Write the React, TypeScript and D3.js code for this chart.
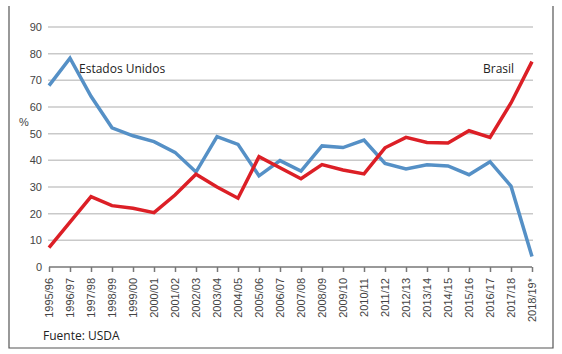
import { useEffect, useRef } from "react";
import * as d3 from "d3";

const seasons = [
  "1995/96", "1996/97", "1997/98", "1998/99", "1999/00", "2000/01",
  "2001/02", "2002/03", "2003/04", "2004/05", "2005/06", "2006/07",
  "2007/08", "2008/09", "2009/10", "2010/11", "2011/12", "2012/13",
  "2013/14", "2014/15", "2015/16", "2016/17", "2017/18", "2018/19*",
];
const estadosUnidos = [
  68, 78.3, 64, 52.2, 49.2, 47, 43, 35.6, 48.9, 46, 34.2, 39.9,
  36, 45.4, 44.8, 47.6, 38.8, 36.8, 38.3, 37.9, 34.6, 39.5, 30.3, 3.9,
];
const brasil = [
  7.3, 16.8, 26.4, 23, 22, 20.4, 27, 34.8, 30, 25.8, 41.4, 37.2,
  33.1, 38.4, 36.4, 34.9, 44.7, 48.6, 46.7, 46.5, 51.1, 48.6, 61.5, 77,
];
const yTicks = [0, 10, 20, 30, 40, 50, 60, 70, 80, 90];

const W = 562;
const H = 354;

const App = () => {
  const svgRef = useRef<SVGSVGElement>(null);

  useEffect(() => {
    const svg = d3.select(svgRef.current);
    svg.selectAll("*").remove();

    const x = d3.scalePoint().domain(seasons).range([49, 532]);
    const y = d3.scaleLinear().domain([0, 90]).range([267, 27]);

    // marco
    svg
      .append("path")
      .attr("d", "M9,6 V348 H553 V6")
      .attr("fill", "none")
      .attr("stroke", "#555")
      .attr("stroke-width", 1.2);

    // rejilla
    svg
      .append("g")
      .selectAll("line")
      .data(yTicks.filter((t) => t > 0))
      .join("line")
      .attr("x1", 48)
      .attr("x2", 533)
      .attr("y1", (d) => y(d))
      .attr("y2", (d) => y(d))
      .attr("stroke", "#c9c9c9")
      .attr("stroke-width", 1.5);

    // eje y
    svg
      .append("g")
      .selectAll("text")
      .data(yTicks)
      .join("text")
      .attr("x", 42)
      .attr("y", (d) => y(d))
      .attr("dy", "0.35em")
      .attr("text-anchor", "end")
      .attr("font-family", "Liberation Sans, Arial, sans-serif")
      .attr("font-size", 11)
      .attr("fill", "#444")
      .text((d) => d);

    svg
      .append("text")
      .attr("x", 24)
      .attr("y", 122)
      .attr("dy", "0.35em")
      .attr("text-anchor", "middle")
      .attr("font-family", "Liberation Sans, Arial, sans-serif")
      .attr("font-size", 11)
      .attr("fill", "#444")
      .text("%");

    // eje x
    const xAxis = d3.axisBottom(x).tickSize(5).tickSizeOuter(0).tickFormat(() => "");
    const gx = svg.append("g").attr("transform", `translate(0,${y(0)})`).call(xAxis);
    gx.select(".domain").attr("stroke", "#777").attr("stroke-width", 1.5).attr("d", `M${x(seasons[0])},0H${x(seasons[seasons.length - 1])}`);
    gx.selectAll(".tick line").attr("stroke", "#777").attr("stroke-width", 1.5);

    svg
      .append("g")
      .selectAll("text")
      .data(seasons)
      .join("text")
      .attr("transform", (d) => `translate(${x(d)},278) rotate(-90)`)
      .attr("dy", "0.35em")
      .attr("text-anchor", "end")
      .attr("font-family", "Liberation Sans, Arial, sans-serif")
      .attr("font-size", 11)
      .attr("fill", "#444")
      .text((d) => d);

    const line = d3
      .line<number>()
      .x((_, i) => x(seasons[i]) as number)
      .y((d) => y(d));

    svg
      .append("path")
      .datum(estadosUnidos)
      .attr("d", line)
      .attr("fill", "none")
      .attr("stroke", "#5590c6")
      .attr("stroke-width", 3.5)
      .attr("stroke-linejoin", "miter");

    svg
      .append("path")
      .datum(brasil)
      .attr("d", line)
      .attr("fill", "none")
      .attr("stroke", "#dc1f26")
      .attr("stroke-width", 3.5)
      .attr("stroke-linejoin", "miter");

    const label = (tx: number, ty: number, s: string) =>
      svg
        .append("text")
        .attr("x", tx)
        .attr("y", ty)
        .attr("font-family", "Open Sans, Noto Sans, sans-serif")
        .attr("font-size", 12)
        .attr("fill", "#222")
        .text(s);

    label(79, 73, "Estados Unidos");
    label(483, 73, "Brasil");
    label(43, 340, "Fuente: USDA");
  }, []);

  return (
    <svg
      ref={svgRef}
      width={W}
      height={H}
      style={{ position: "absolute", left: 0, top: 0, background: "#fff" }}
    ></svg>
  );
};

export default App;
